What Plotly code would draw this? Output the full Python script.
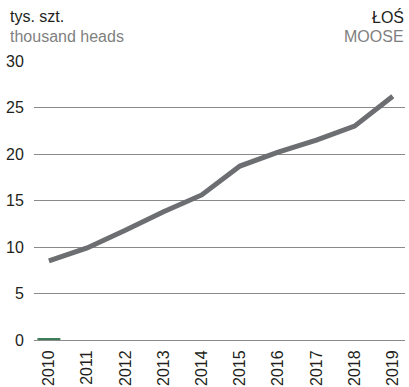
import plotly.graph_objects as go

years = [2010, 2011, 2012, 2013, 2014, 2015, 2016, 2017, 2018, 2019]
moose = [8.5, 9.9, 11.8, 13.8, 15.6, 18.7, 20.2, 21.5, 23.0, 26.2]
# tiny green bar visible at the baseline in 2010
green_years = [2010]
green_vals = [0.15]
y_ticks = [0, 5, 10, 15, 20, 25, 30]

fig = go.Figure()
fig.add_trace(go.Bar(x=green_years, y=green_vals, width=0.6,
                     marker=dict(color="#3d7d5a", line=dict(width=0)), showlegend=False))
fig.add_trace(go.Scatter(x=years, y=moose, mode="lines",
                         line=dict(color="#6d6e71", width=5), showlegend=False))

font = dict(family="Liberation Sans, Arial, sans-serif", size=16, color="#231f20")
grey_font = dict(family=font["family"], size=16, color="#7f7f7f")

fig.update_layout(
    width=409, height=387,
    margin=dict(l=34, r=4, t=61, b=47),
    plot_bgcolor="white", paper_bgcolor="white",
    font=font,
    xaxis=dict(range=[2009.61, 2019.32], tickvals=years, ticktext=[str(y) for y in years],
               tickangle=-90, showgrid=False, zeroline=False, showline=False, automargin=False,
               ticks="outside", ticklen=3, tickcolor="rgba(0,0,0,0)", tickfont=font),
    yaxis=dict(range=[0, 30], tickvals=y_ticks, showgrid=True, gridcolor="#8a8a8a", gridwidth=1,
               zeroline=True, zerolinecolor="#8a8a8a", zerolinewidth=1, showline=False,
               automargin=False, ticks="outside", ticklen=6,
               tickcolor="rgba(0,0,0,0)", tickfont=font),
)

# header texts positioned in pixels relative to the plot area
ph = 387 - 61 - 47
pw = 409 - 34 - 4
def px_x(x):
    return (x - 34) / pw
def px_y(y):
    return (387 - 47 - y) / ph

fig.add_annotation(text="tys. szt.", x=px_x(8), y=px_y(6), xref="paper", yref="paper",
                   xanchor="left", yanchor="top", showarrow=False, font=font)
fig.add_annotation(text="thousand heads", x=px_x(8), y=px_y(26), xref="paper", yref="paper",
                   xanchor="left", yanchor="top", showarrow=False, font=grey_font)
fig.add_annotation(text="ŁOŚ", x=px_x(406), y=px_y(6), xref="paper", yref="paper",
                   xanchor="right", yanchor="top", showarrow=False, font=font)
fig.add_annotation(text="MOOSE", x=px_x(406), y=px_y(26), xref="paper", yref="paper",
                   xanchor="right", yanchor="top", showarrow=False, font=grey_font)

fig.write_html("out.html", config={"displayModeBar": False},
               post_script="document.body.style.margin='0';")
